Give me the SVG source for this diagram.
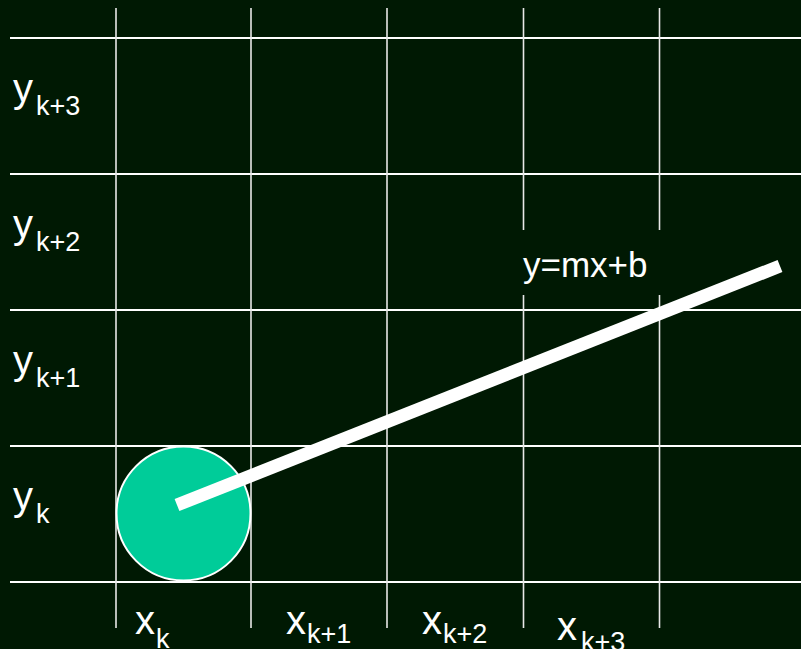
<svg xmlns="http://www.w3.org/2000/svg" width="801" height="649" viewBox="0 0 801 649">
<style>
.h{stroke:#ffffff;stroke-width:2.2}
.v{stroke:#e8e8e8;stroke-width:1.6}
.t{font-family:"Liberation Sans",Arial,sans-serif;fill:#ffffff}
.m{font-size:40px}
.s{font-size:27px}
</style>
<rect width="801" height="649" fill="#001903"/>
<g id="grid">
<line class="h" x1="10" y1="38" x2="801" y2="38"/>
<line class="h" x1="10" y1="174" x2="801" y2="174"/>
<line class="h" x1="10" y1="310" x2="801" y2="310"/>
<line class="h" x1="10" y1="446" x2="801" y2="446"/>
<line class="h" x1="10" y1="582" x2="801" y2="582"/>
<line class="v" x1="116" y1="8" x2="116" y2="628"/>
<line class="v" x1="251" y1="8" x2="251" y2="628"/>
<line class="v" x1="387" y1="8" x2="387" y2="628"/>
<line class="v" x1="523.5" y1="8" x2="523.5" y2="230"/>
<line class="v" x1="523.5" y1="295" x2="523.5" y2="628"/>
<line class="v" x1="659.5" y1="8" x2="659.5" y2="230"/>
<line class="v" x1="659.5" y1="295" x2="659.5" y2="628"/>
</g>
<g id="pixel">
<circle cx="183.5" cy="513.5" r="67" fill="#00cc99" stroke="#ffffff" stroke-width="2"/>
</g>
<g id="connectors">
<line x1="177" y1="505" x2="780" y2="266" stroke="#ffffff" stroke-width="13"/>
</g>
<g id="equation">
<text class="t" x="523" y="277" font-size="35">y=mx+b</text>
</g>
<g id="ylabels">
<text class="t m" x="13" y="102">y<tspan class="s" x="36" y="115">k+3</tspan></text>
<text class="t m" x="13" y="238">y<tspan class="s" x="36" y="251">k+2</tspan></text>
<text class="t m" x="13" y="374">y<tspan class="s" x="36" y="387">k+1</tspan></text>
<text class="t m" x="13" y="510">y<tspan class="s" x="36" y="523">k</tspan></text>
</g>
<g id="xlabels">
<text class="t m" x="135" y="634">x<tspan class="s" x="156" y="648">k</tspan></text>
<text class="t m" x="286" y="634">x<tspan class="s" x="307" y="643">k+1</tspan></text>
<text class="t m" x="422" y="634">x<tspan class="s" x="443" y="643">k+2</tspan></text>
<text class="t m" x="557" y="640">x<tspan class="s" x="581" y="651">k+3</tspan></text>
</g>
</svg>
